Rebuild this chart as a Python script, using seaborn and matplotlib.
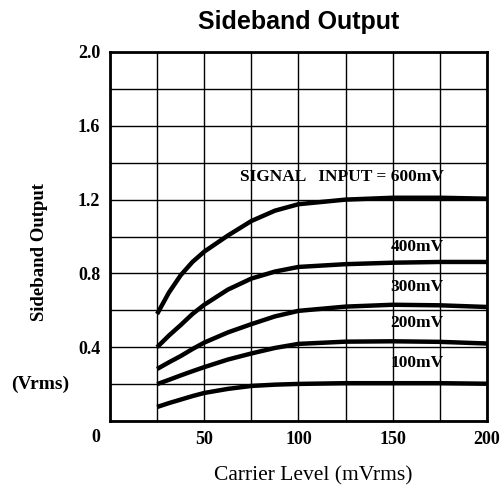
import matplotlib
matplotlib.use("Agg")
import matplotlib.pyplot as plt
import seaborn as sns
import pandas as pd

# Data
carrier = [25, 31.25, 37.5, 43.75, 50, 62.5, 75, 87.5, 100, 125, 150, 175, 200]
out_600 = [0.58, 0.696, 0.79, 0.862, 0.918, 1.005, 1.084, 1.14, 1.175, 1.20, 1.21, 1.21, 1.205]
out_400 = [0.40, 0.463, 0.52, 0.58, 0.63, 0.712, 0.772, 0.81, 0.835, 0.85, 0.858, 0.862, 0.862]
out_300 = [0.282, 0.318, 0.352, 0.39, 0.425, 0.48, 0.525, 0.567, 0.597, 0.62, 0.63, 0.627, 0.618]
out_200 = [0.20, 0.223, 0.247, 0.27, 0.292, 0.333, 0.366, 0.396, 0.418, 0.43, 0.432, 0.429, 0.42]
out_100 = [0.076, 0.097, 0.116, 0.135, 0.152, 0.174, 0.19, 0.197, 0.201, 0.205, 0.205, 0.205, 0.202]
series_names = ["600mV", "400mV", "300mV", "200mV", "100mV"]
series_labels = ["SIGNAL   INPUT = 600mV", "400mV", "300mV", "200mV", "100mV"]
label_y = [1.32, 0.942, 0.726, 0.53, 0.313]
x_ticks = [50, 100, 150, 200]
y_ticks = [0.4, 0.8, 1.2, 1.6, 2.0]

series_vals = [out_600, out_400, out_300, out_200, out_100]
df = pd.concat([pd.DataFrame({"carrier": carrier, "out": v, "sig": n})
                for n, v in zip(series_names, series_vals)], ignore_index=True)

sns.set_style("white")
plt.rcParams["text.color"] = "black"
fig = plt.figure(figsize=(5.02, 4.92), dpi=100)
ax = fig.add_axes([110/502, 1-421/492, 377/502, 369/492])

sns.lineplot(data=df, x="carrier", y="out", hue="sig", palette=["black"]*5,
             linewidth=3.2, legend=False, ax=ax)
for ln in ax.lines:
    ln.set_solid_joinstyle("round")
    ln.set_solid_capstyle("butt")

ax.set_xlim(0, 200)
ax.set_ylim(0, 2.0)
ax.grid(True, color="black", linewidth=1.0)
ax.set_axisbelow(True)
for s in ax.spines.values():
    s.set_visible(True)
    s.set_color("black")
    s.set_linewidth(2.0)

serif = "Liberation Serif"
xt = list(range(0, 201, 25))
ax.set_xticks(xt)
ax.set_xticklabels([str(t) if t in x_ticks else "" for t in xt],
                   fontfamily=serif, fontweight="bold", fontsize=13, color="black")
yt = [round(i*0.2, 1) for i in range(11)]
ax.set_yticks(yt)
ax.set_yticklabels([f"{v:.1f}" if any(abs(v-t) < 1e-6 for t in y_ticks) else "" for v in yt],
                   fontfamily=serif, fontweight="bold", fontsize=13, color="black")
ax.tick_params(axis="both", length=0, pad=7, colors="black")
ax.text(-14/377, -16/369, "0", transform=ax.transAxes, ha="center", va="center",
        fontfamily=serif, fontweight="bold", fontsize=13, color="black")

ax.set_xlabel("")
ax.set_ylabel("")
fig.text(40/502, 1-252/492, "Sideband Output", rotation=90, ha="center", va="center",
         fontfamily=serif, fontweight="bold", fontsize=13.5, color="black")
fig.text(40/502, 1-384/492, "(Vrms)", ha="center", va="center",
         fontfamily=serif, fontweight="bold", fontsize=14, color="black")
fig.text(313/502, 1-476/492, "Carrier Level (mVrms)", ha="center", va="center",
         fontfamily=serif, fontsize=15.5, color="black")
fig.text(299/502, 1-22/492, "Sideband Output", ha="center", va="center",
         fontfamily="Liberation Sans", fontweight="bold", fontsize=18, color="black")

for lab, y in zip(series_labels, label_y):
    ax.text(177, y, lab, ha="right", va="center", fontfamily=serif, fontsize=12.5,
            fontweight="bold", color="black")

fig.savefig("out.png", dpi=100, facecolor="white")
